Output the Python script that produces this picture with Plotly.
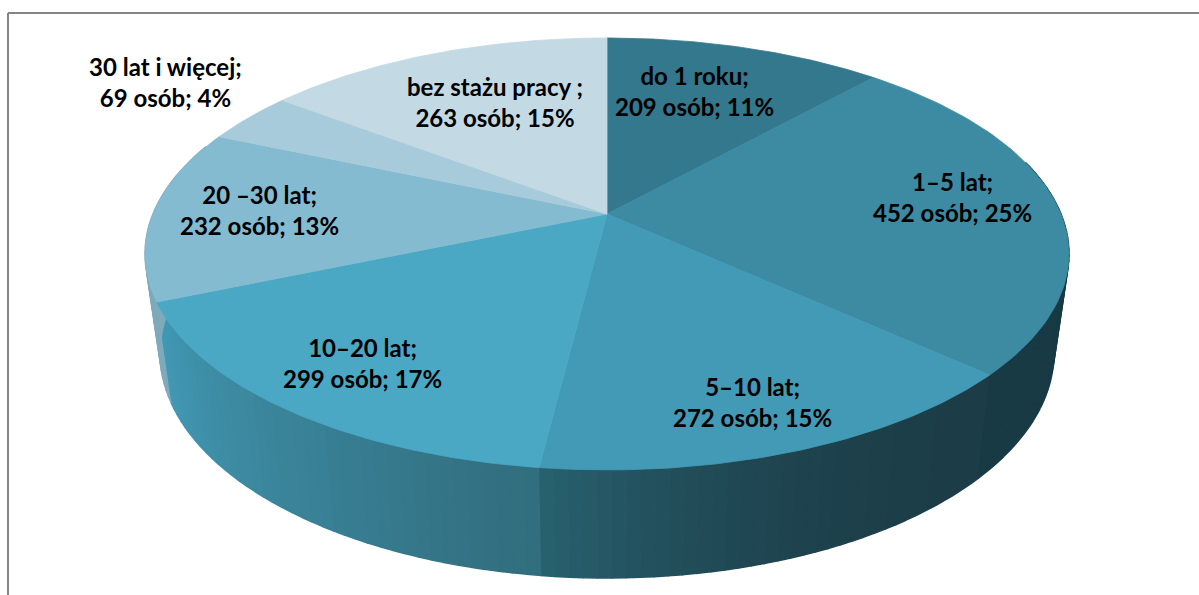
import numpy as np
import plotly.graph_objects as go

categories = ["do 1 roku", "1–5 lat", "5–10 lat", "10–20 lat", "20 –30 lat", "30 lat i więcej", "bez stażu pracy "]
counts = [209, 452, 272, 299, 232, 69, 263]
percents = [11, 25, 15, 17, 13, 4, 15]

top_colors = ["#33788c", "#3c8ba3", "#439ab6", "#4aa8c5", "#84bbd0", "#a8cbdb", "#c3d9e4"]
# side shading, from the left end of a slice's visible wall to its right end
side_from = ["#183a45", "#183a45", "#28626f", "#4299b5", "#7faabb", "#7faabb", "#7faabb"]
side_to = ["#183a45", "#183a45", "#1c3d48", "#316d7d", "#7faabb", "#7faabb", "#7faabb"]
side_gamma = [1, 1, 2.5, 1, 1, 1, 1]

label_x = [694, 952, 752, 362, 259, 165, 495]
label_y = [91, 197, 402, 363, 210, 82, 102]

# projection of the tilted disc
APEX_X, APEX_Y = 607.0, 214.0
A, B, K = 454.0, 208.6, 0.185
TOP_CY, TOP_RX, TOP_RY = 254.0, 462.0, 216.0
BASE_CY, BASE_RX, BASE_RY = 353.0, 447.0, 225.0


def project(theta):
    sx, cy = np.sin(theta), np.cos(theta)
    d = 1 + K * cy
    return APEX_X + A * sx / d, APEX_Y - B * cy / d


def project_base(theta):
    x, y = project(theta)
    return APEX_X + (x - APEX_X) * BASE_RX / TOP_RX, BASE_CY + (y - TOP_CY) * BASE_RY / TOP_RY


def hex_rgb(c):
    return np.array([int(c[i:i + 2], 16) for i in (1, 3, 5)], float)


def mix(c1, c2, t):
    r = hex_rgb(c1) * (1 - t) + hex_rgb(c2) * t
    return "rgb(%d,%d,%d)" % tuple(np.round(r))


total = sum(counts)
edges = 2 * np.pi * np.cumsum([0] + counts) / total
fig = go.Figure()


def poly(xs, ys, color, width=0.8):
    fig.add_trace(go.Scatter(x=list(xs), y=list(ys), mode="lines", fill="toself", fillcolor=color,
                             line=dict(color=color, width=width), hoverinfo="skip", showlegend=False))


# walls: slices' rim, right to left
WALL_START, WALL_END = np.radians(75), np.radians(290)
for i in range(len(counts)):
    a0, a1 = max(edges[i], WALL_START), min(edges[i + 1], WALL_END)
    if a1 <= a0:
        continue
    n = max(2, int((a1 - a0) / np.radians(1.5)))
    t = np.linspace(a0, a1, n + 1)
    for j in range(n):
        mid = np.linspace(t[j], t[j + 1], 4)
        xt, yt = project(mid)
        xb, yb = project_base(mid[::-1])
        u = ((j + 0.5) / n) ** side_gamma[i]
        poly(np.r_[xt, xb], np.r_[yt, yb], mix(side_to[i], side_from[i], u), 1.5)

# top faces
for i, col in enumerate(top_colors):
    t = np.linspace(edges[i], edges[i + 1], 80)
    x, y = project(t)
    poly(np.r_[APEX_X, x, APEX_X], np.r_[APEX_Y, y, APEX_Y], col)

for cat, n, p, lx, ly in zip(categories, counts, percents, label_x, label_y):
    fig.add_annotation(x=lx, y=ly, xref="x", yref="y", showarrow=False,
                       text=f"{cat};<br>{n} osób; {p}%", align="center",
                       font=dict(family="Lato", size=24, color="#000000", weight=700))

fig.update_layout(
    width=1199, height=595, margin=dict(l=0, r=0, t=0, b=0),
    paper_bgcolor="white", plot_bgcolor="white", showlegend=False,
    xaxis=dict(range=[0, 1199], visible=False, fixedrange=True),
    yaxis=dict(range=[595, 0], visible=False, fixedrange=True),
    shapes=[
        dict(type="line", xref="x", yref="y", x0=8, x1=8, y0=13, y1=595, line=dict(color="#868686", width=2)),
        dict(type="line", xref="x", yref="y", x0=8, x1=1199, y0=13, y1=13, line=dict(color="#868686", width=2)),
    ],
)
fig.write_html("out.html", config={"displayModeBar": False},
               post_script="document.body.style.margin='0';")
